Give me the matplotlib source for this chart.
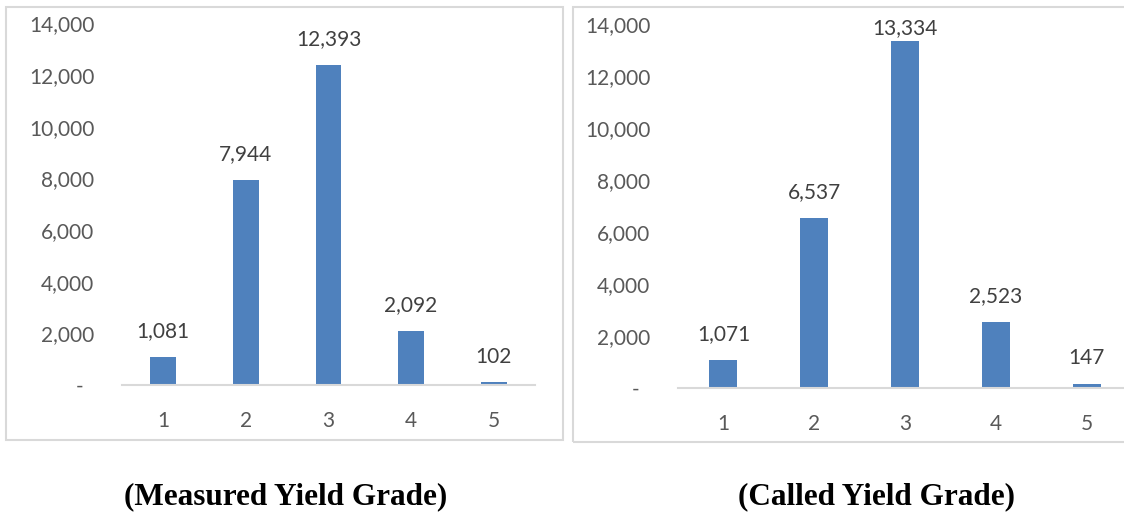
import matplotlib
matplotlib.use("Agg")
import matplotlib.pyplot as plt
from matplotlib.patches import Rectangle
from matplotlib.ticker import FuncFormatter

grades = [1, 2, 3, 4, 5]
measured = [1081, 7944, 12393, 2092, 102]
called = [1071, 6537, 13334, 2523, 147]
captions = ["(Measured Yield Grade)", "(Called Yield Grade)"]

bar_color = "#4F81BD"
grid_gray = "#D9D9D9"
tick_gray = "#595959"
label_gray = "#404040"

plt.rcParams["font.family"] = ["Lato", "DejaVu Sans"]

W, H = 1124, 517
fig = plt.figure(figsize=(W / 100, H / 100), dpi=100)


def px_box(x0, y_top, x1, y_bot):
    return [x0 / W, (H - y_bot) / H, (x1 - x0) / W, (y_bot - y_top) / H]


def fmt(v, pos):
    # accounting style: zero shows as a dash
    return "-  " if v == 0 else f"{v:,.0f}"


def draw_panel(frame, axbox, values, caption, cap_x, barw):
    # light gray frame around each chart
    fig.patches.append(Rectangle((frame[0], frame[1]), frame[2], frame[3],
                                 transform=fig.transFigure, fill=False,
                                 edgecolor=grid_gray, linewidth=1.5, clip_on=False))
    ax = fig.add_axes(axbox)
    ax.bar(grades, values, width=barw, color=bar_color, zorder=2)
    ax.set_xlim(0.5, 5.5)
    ax.set_ylim(0, 14000)
    ax.set_yticks(range(0, 14001, 2000))
    ax.yaxis.set_major_formatter(FuncFormatter(fmt))
    ax.set_xticks(grades)
    for s in ["top", "right", "left"]:
        ax.spines[s].set_visible(False)
    ax.spines["bottom"].set_color(grid_gray)
    ax.spines["bottom"].set_linewidth(1.5)
    ax.tick_params(axis="both", length=0, labelsize=15, colors=tick_gray)
    ax.tick_params(axis="y", pad=20)
    ax.tick_params(axis="x", pad=19)
    for g, v in zip(grades, values):
        ax.text(g, min(v + 1000, 13850), f"{v:,}", ha="center", va="center",
                fontsize=15, color=label_gray)
    fig.text(cap_x / W, (H - 497) / H, caption, ha="center", va="center",
             family="Liberation Serif", fontweight="bold", fontsize=22.5, color="black")


draw_panel(px_box(6, 7, 563, 440), px_box(122, 23.5, 535, 385), measured,
           captions[0], 286, 0.31)
draw_panel(px_box(573, 7, 1140, 442), px_box(678, 24, 1132, 388), called,
           captions[1], 876, 0.31)

fig.savefig("out.png", dpi=100)
